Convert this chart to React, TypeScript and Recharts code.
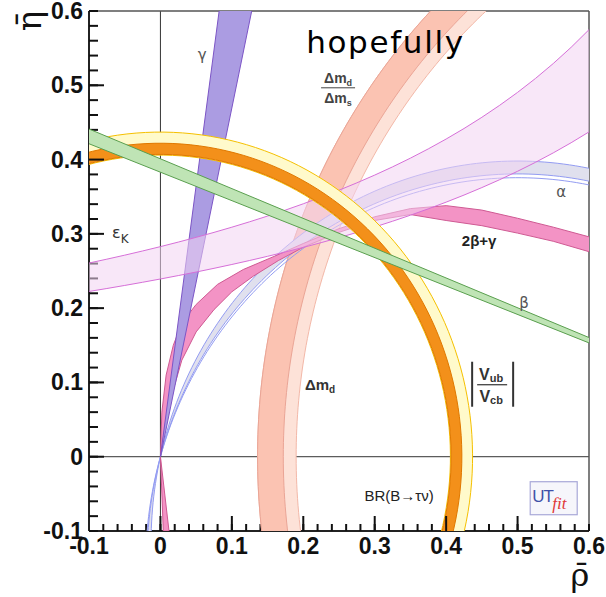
import React from 'react';
import {
  ComposedChart,
  Scatter,
  XAxis,
  YAxis,
  ReferenceLine,
} from 'recharts';

// axis ticks (rho-bar and eta-bar share the same range)
const majorTicks = [-0.1, 0, 0.1, 0.2, 0.3, 0.4, 0.5, 0.6];
const minorTicks: number[] = [];
majorTicks.slice(0, -1).forEach((t) => {
  [0.02, 0.04, 0.06, 0.08].forEach((d) => minorTicks.push(Math.round((t + d) * 100) / 100));
});
const allTicks = [...majorTicks, ...minorTicks].sort((a, b) => a - b);

// |Vub/Vcb| : rings around (0,0), radii
const vubCentre = { x: 0, y: 0 };
const vub95 = [0.406, 0.437];
const vub68 = [0.407, 0.422];

// Δmd/Δms : rings around (1,0)
const dmCentre = { x: 1, y: 0 };
const dm95 = [0.81, 0.864];
const dm68 = [0.828, 0.864];

// γ : edges through the origin, given as ρ/η
const gammaEdges = [0.137, 0.213];

// β : edges through (1,0), given as tan β
const betaEdges = [0.383, 0.401];

// α : circles through (0,0) and (1,0), centre height of each edge
const alphaOuter = [-0.115, -0.138];
const alphaLines = [-0.115, -0.138, -0.145];

// εK : edges η = k / (d - ρ)
const epsKUpper = { d: 1.181, k: 0.334 };
const epsKLower = { d: 1.325, k: 0.317 };

// 2β+γ : edge points
const sbgUpperRho = [0.004, 0, 0.002, 0.008, 0.018, 0.03, 0.05, 0.08, 0.116, 0.16, 0.2, 0.25, 0.3, 0.35, 0.4, 0.45, 0.5, 0.55, 0.6, 0.65];
const sbgUpperEta = [-0.1, 0, 0.06, 0.11, 0.15, 0.18, 0.205, 0.232, 0.252, 0.27, 0.287, 0.307, 0.323, 0.334, 0.338, 0.332, 0.321, 0.309, 0.296, 0.28];
const sbgLowerRho = [0.012, 0, 0.008, 0.018, 0.03, 0.05, 0.075, 0.1, 0.13, 0.165, 0.2, 0.25, 0.3, 0.35, 0.4, 0.45, 0.5, 0.55, 0.6, 0.65];
const sbgLowerEta = [-0.1, 0, 0.05, 0.09, 0.13, 0.168, 0.198, 0.222, 0.243, 0.264, 0.282, 0.302, 0.318, 0.326, 0.318, 0.311, 0.301, 0.29, 0.276, 0.26];

// text annotations, placed in (ρ, η)
const annotations = [
  { x: 0.0585, y: 0.541, kind: 'gamma' },
  { x: 0.204, y: 0.5437, kind: 'hopefully' },
  { x: 0.2487, y: 0.4966, kind: 'dmratio' },
  { x: -0.0593, y: 0.3015, kind: 'epsk' },
  { x: 0.561, y: 0.3567, kind: 'alpha' },
  { x: 0.4462, y: 0.292, kind: 'sbg' },
  { x: 0.5092, y: 0.2073, kind: 'beta' },
  { x: 0.2235, y: 0.0956, kind: 'dmd' },
  { x: 0.4644, y: 0.0969, kind: 'vub' },
  { x: 0.3342, y: -0.0511, kind: 'btaunu' },
  { x: 0.5499, y: -0.0552, kind: 'utfit' },
];

const DOMAIN = [-0.1, 0.6];
const PX_PER_X = 500 / 0.7;
const PX_PER_Y = 520 / 0.7;

type Pt = { x: number; y: number };

const arc = (c: Pt, r: number, a0: number, a1: number, n = 120): Pt[] => {
  const pts: Pt[] = [];
  for (let i = 0; i <= n; i++) {
    const a = ((a0 + ((a1 - a0) * i) / n) * Math.PI) / 180;
    pts.push({ x: c.x + r * Math.cos(a), y: c.y + r * Math.sin(a) });
  }
  return pts;
};

const ring = (c: Pt, radii: number[], a0: number, a1: number): Pt[] => [
  ...arc(c, radii[1], a0, a1),
  ...arc(c, radii[0], a1, a0),
];

const alphaCircle = (h: number) => {
  const c = { x: 0.5, y: h };
  const r = Math.sqrt(0.25 + h * h);
  const aOrigin = (Math.atan2(-h, -0.5) * 180) / Math.PI;
  const aOne = (Math.atan2(-h, 0.5) * 180) / Math.PI;
  return { c, r, aOrigin, aOne };
};

const alphaUpper = (() => {
  const A = alphaCircle(alphaOuter[0]);
  const B = alphaCircle(alphaOuter[1]);
  return [...arc(A.c, A.r, A.aOrigin, A.aOne), ...arc(B.c, B.r, B.aOne, B.aOrigin)];
})();
const alphaLower = (() => {
  const A = alphaCircle(alphaOuter[0]);
  const B = alphaCircle(alphaOuter[1]);
  return [...arc(A.c, A.r, A.aOrigin, A.aOrigin + 40, 40), ...arc(B.c, B.r, B.aOrigin + 40, B.aOrigin, 40)];
})();
const alphaEdgeLines = alphaLines.map((h) => {
  const C = alphaCircle(h);
  return arc(C.c, C.r, C.aOrigin + 40, C.aOne, 200);
});

const rhoSamples: number[] = [];
for (let r = -0.15; r <= 0.651; r += 0.025) rhoSamples.push(r);
const epsK = [
  ...rhoSamples.map((r) => ({ x: r, y: epsKUpper.k / (epsKUpper.d - r) })),
  ...rhoSamples.slice().reverse().map((r) => ({ x: r, y: epsKLower.k / (epsKLower.d - r) })),
];

const gammaBand = [
  { x: 0, y: 0 },
  { x: gammaEdges[0] * 0.7, y: 0.7 },
  { x: gammaEdges[1] * 0.7, y: 0.7 },
];

const betaBand = [
  { x: -0.2, y: betaEdges[0] * 1.2 },
  { x: 0.7, y: betaEdges[0] * 0.3 },
  { x: 0.7, y: betaEdges[1] * 0.3 },
  { x: -0.2, y: betaEdges[1] * 1.2 },
];

const sbgBand = [
  ...sbgUpperRho.map((r, i) => ({ x: r, y: sbgUpperEta[i] })),
  ...sbgLowerRho.map((r, i) => ({ x: r, y: sbgLowerEta[i] })).reverse(),
];

const vubBand95 = ring(vubCentre, vub95, -20, 185);
const vubBand68 = ring(vubCentre, vub68, -20, 185);
const dmBand95 = ring(dmCentre, dm95, 120, 200);
const dmBand68 = ring(dmCentre, dm68, 120, 200);

const isMajor = (v: number) => Math.abs(v * 10 - Math.round(v * 10)) < 1e-6;
const fmt = (v: number) => (Math.abs(v) < 1e-9 ? '0' : v.toFixed(1));
const tickFont = { fontFamily: 'Liberation Sans, Arial, sans-serif', fontWeight: 'bold' as const, fontSize: 23 };

// longer inward marks for the major ticks, anchored at their inner tip
const innerMajor = majorTicks.filter((t) => t > DOMAIN[0] + 1e-6 && t < DOMAIN[1] - 1e-6);
const MAJOR_LEN = 15;
const tickMarks = [
  ...innerMajor.map((t) => ({ x: t, y: DOMAIN[0] + MAJOR_LEN / PX_PER_Y, dir: 'down' })),
  ...innerMajor.map((t) => ({ x: DOMAIN[0] + MAJOR_LEN / PX_PER_X, y: t, dir: 'left' })),
];

const renderTickMark = (props: any) => {
  const { cx, cy, payload } = props;
  if (payload.dir === 'down') {
    return <line x1={cx} x2={cx} y1={cy} y2={cy + MAJOR_LEN} stroke="#111" strokeWidth={2} />;
  }
  return <line x1={cx - MAJOR_LEN} x2={cx} y1={cy} y2={cy} stroke="#111" strokeWidth={2} />;
};

const XTick = (props: any) => {
  const { x, payload } = props;
  if (!isMajor(payload.value)) return <g />;
  return (
    <text x={x} y={554} textAnchor="middle" fill="#111" {...tickFont}>
      {fmt(payload.value)}
    </text>
  );
};

const YTick = (props: any) => {
  const { y, payload } = props;
  if (!isMajor(payload.value)) return <g />;
  return (
    <text x={83} y={y + 8} textAnchor="end" fill="#111" {...tickFont}>
      {fmt(payload.value)}
    </text>
  );
};

const noShape = () => <g />;

const sans = 'Liberation Sans, Arial, sans-serif';

const renderAnnotation = (props: any) => {
  const { cx, cy, payload } = props;
  switch (payload.kind) {
    case 'gamma':
      return (
        <text x={cx} y={cy + 5} textAnchor="middle" fontFamily="DejaVu Sans" fontSize={15} fill="#555">
          γ
        </text>
      );
    case 'hopefully':
      return (
        <text x={cx} y={cy} fontFamily="DejaVu Sans" fontSize={31} fill="#000" textLength={157}>
          hopefully
        </text>
      );
    case 'dmratio':
      return (
        <g fill="#444" fontFamily={sans} fontWeight="bold" fontSize={14}>
          <text x={cx} y={cy - 5} textAnchor="middle">
            Δm<tspan fontSize={9} dy={3}>d</tspan>
          </text>
          <line x1={cx - 17} x2={cx + 17} y1={cy} y2={cy} stroke="#444" strokeWidth={1} />
          <text x={cx} y={cy + 15} textAnchor="middle">
            Δm<tspan fontSize={9} dy={3}>s</tspan>
          </text>
        </g>
      );
    case 'epsk':
      return (
        <text x={cx - 6} y={cy + 5} fontFamily="DejaVu Sans" fontSize={16} fill="#333">
          ε<tspan fontSize={12} dy={5}>K</tspan>
        </text>
      );
    case 'alpha':
      return (
        <text x={cx} y={cy + 5} textAnchor="middle" fontFamily="DejaVu Sans" fontSize={15} fill="#555">
          α
        </text>
      );
    case 'sbg':
      return (
        <text x={cx} y={cy + 6} textAnchor="middle" fontFamily={sans} fontWeight="bold" fontSize={15} fill="#222">
          2β+γ
        </text>
      );
    case 'beta':
      return (
        <text x={cx} y={cy + 5} textAnchor="middle" fontFamily="DejaVu Sans" fontSize={15} fill="#555">
          β
        </text>
      );
    case 'dmd':
      return (
        <text x={cx} y={cy + 4} textAnchor="middle" fontFamily={sans} fontWeight="bold" fontSize={15} fill="#333">
          Δm<tspan fontSize={10} dy={3}>d</tspan>
        </text>
      );
    case 'vub':
      return (
        <g fill="#333" fontFamily={sans} fontWeight="bold">
          <line x1={cx - 20} x2={cx - 20} y1={cy - 23} y2={cy + 22} stroke="#333" strokeWidth={2} />
          <line x1={cx + 21} x2={cx + 21} y1={cy - 23} y2={cy + 22} stroke="#333" strokeWidth={2} />
          <text x={cx - 1} y={cy - 5} textAnchor="middle" fontSize={16}>
            V<tspan fontSize={11} dy={2}>ub</tspan>
          </text>
          <line x1={cx - 15} x2={cx + 15} y1={cy} y2={cy} stroke="#333" strokeWidth={1.2} />
          <text x={cx - 1} y={cy + 17} textAnchor="middle" fontSize={16}>
            V<tspan fontSize={11} dy={2}>cb</tspan>
          </text>
        </g>
      );
    case 'btaunu':
      return (
        <text x={cx} y={cy + 6} textAnchor="middle" fontFamily={sans} fontSize={15} fill="#222">
          BR(B→τν)
        </text>
      );
    case 'utfit':
      return (
        <g>
          <rect x={cx - 23} y={cy - 16} width={47} height={33} fill="#f6f6fb" stroke="#a8a8d8" strokeWidth={1.2} />
          <text x={cx - 21} y={cy + 4} fontFamily={sans} fontSize={17} fill="#4050a8" letterSpacing={-1}>
            UT
          </text>
          <text x={cx - 1} y={cy + 11} fontFamily="Liberation Serif, serif" fontStyle="italic" fontSize={17} fill="#e03838">
            fit
          </text>
        </g>
      );
    default:
      return <g />;
  }
};

const band = (key: string, data: Pt[], fill: string, stroke: string, extra: Record<string, any> = {}) => (
  <Scatter
    key={key}
    data={data}
    isAnimationActive={false}
    shape={noShape}
    legendType="none"
    line={{ fill, stroke, strokeWidth: 1, ...extra }}
    lineJointType="linearClosed"
  />
);

const curve = (key: string, data: Pt[], stroke: string, width = 1) => (
  <Scatter
    key={key}
    data={data}
    isAnimationActive={false}
    shape={noShape}
    legendType="none"
    line={{ fill: 'none', stroke, strokeWidth: width }}
    lineJointType="linear"
  />
);

const EtaTitle = (props: any) => {
  const vb = props.viewBox;
  return (
    <text
      transform={`translate(${vb.x + 41}, ${vb.y + 10}) rotate(-90)`}
      textAnchor="middle"
      fontFamily="DejaVu Serif, serif"
      fontSize={34}
      fill="#111"
    >
      {'η\u0304'}
    </text>
  );
};

const RhoTitle = (props: any) => {
  const vb = props.viewBox;
  return (
    <text x={vb.x + vb.width - 9} y={vb.y + 55} textAnchor="middle" fontFamily="DejaVu Serif, serif" fontSize={32} fill="#111">
      {'ρ\u0304'}
    </text>
  );
};

export default function App() {
  return (
    <div style={{ position: 'absolute', left: 0, top: 0, width: 606, height: 597, background: '#fff' }}>
      <ComposedChart width={606} height={597} margin={{ top: 11, right: 17, bottom: 0, left: 0 }}>
        <XAxis
          type="number"
          dataKey="x"
          domain={DOMAIN}
          allowDataOverflow
          ticks={allTicks}
          interval={0}
          tickSize={-7}
          tickMargin={13}
          height={66}
          axisLine={{ stroke: '#222', strokeWidth: 2 }}
          tickLine={{ stroke: '#111', strokeWidth: 2 }}
          tick={(p: any) => <XTick {...p} />}
          label={{ content: (p: any) => <RhoTitle {...p} /> }}
        />
        <YAxis
          type="number"
          dataKey="y"
          domain={DOMAIN}
          allowDataOverflow
          ticks={allTicks}
          interval={0}
          tickSize={-9}
          tickMargin={15}
          width={89}
          axisLine={{ stroke: '#222', strokeWidth: 2 }}
          tickLine={{ stroke: '#111', strokeWidth: 2 }}
          tick={(p: any) => <YTick {...p} />}
          label={{ content: (p: any) => <EtaTitle {...p} /> }}
        />

        {band('dm95', dmBand95, '#fde2d8', '#f3b8a8')}
        {band('dm68', dmBand68, '#fbc3b2', '#eaa596')}
        {band('alphaU', alphaUpper, '#e0e0ee', 'none')}
        {band('alphaL', alphaLower, '#e0e0ee', 'none')}
        {alphaEdgeLines.map((l, i) => curve(`alphaLine${i}`, l, '#939cf2', 1))}
        {band('sbg', sbgBand, '#f393c5', '#cf5a93')}
        {band('gamma', gammaBand, '#ab9ce2', '#7c55c6')}
        {band('epsK', epsK, '#f2d4f2', '#d66fd8', { fillOpacity: 0.55 })}
        {band('vub95', vubBand95, '#fffacb', '#f5c000')}
        {band('vub68', vubBand68, '#f3901a', '#e07800')}
        {band('beta', betaBand, '#bfe4b5', '#5a9f4f')}

        <ReferenceLine x={0} stroke="#333" strokeWidth={1} />
        <ReferenceLine y={0} stroke="#333" strokeWidth={1} />
        <ReferenceLine x={DOMAIN[1]} stroke="#555" strokeWidth={1.5} ifOverflow="visible" />
        <ReferenceLine y={DOMAIN[1]} stroke="#555" strokeWidth={1.5} ifOverflow="visible" />

        <Scatter
          data={tickMarks}
          isAnimationActive={false}
          legendType="none"
          shape={renderTickMark}
        />
        <Scatter
          data={annotations}
          isAnimationActive={false}
          legendType="none"
          shape={renderAnnotation}
        />
      </ComposedChart>
    </div>
  );
}
